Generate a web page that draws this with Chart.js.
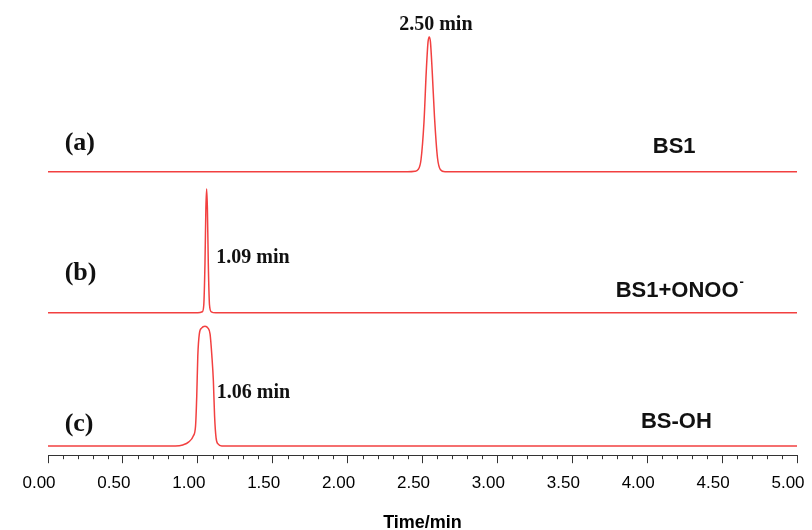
<!DOCTYPE html>
<html>
<head>
<meta charset="utf-8">
<script src="https://cdn.jsdelivr.net/npm/chart.js@4/dist/chart.umd.min.js"></script>
<style>
  html, body { margin: 0; padding: 0; background: #fff; }
  #wrap { width: 812px; height: 530px; }
</style>
</head>
<body>
<div id="wrap"><canvas id="chrom"></canvas></div>
<script>
// retention time (min) / detector signal
const timeA = [0, 2.40, 2.45, 2.47, 2.49, 2.51, 2.525, 2.537, 2.545, 2.553, 2.565, 2.58, 2.60, 2.62, 2.65, 5];
const signalA = [0, 0, 0.5, 2, 12, 50, 100, 130, 135, 130, 100, 55, 14, 2, 0, 0];

const timeB = [0, 1.00, 1.030, 1.040, 1.048, 1.054, 1.059, 1.064, 1.070, 1.078, 1.090, 1.12, 5];
const signalB = [0, 0, 1, 8, 50, 105, 124, 105, 50, 8, 1, 0, 0];

const timeC = [0, 0.85, 0.90, 0.94, 0.97, 0.985, 0.993, 1.000, 1.010, 1.025, 1.048, 1.068, 1.082, 1.094, 1.104, 1.112, 1.122, 1.135, 1.16, 5];
const signalC = [0, 0, 1, 4, 10, 20, 50, 90, 112, 118, 120, 118, 112, 90, 65, 30, 8, 2, 0, 0];

// vertical stacking of the runs
const offsetA = 284;
const offsetB = 142.7;
const offsetC = 9.3;

const xMin = 0;
const xMax = 5;
const xStep = 0.1;

const notes = [
  { text: '2.50 min', x: 2.589, y: 431, font: 'bold 20px "Liberation Serif"', align: 'center' },
  { text: '1.09 min', x: 1.123, y: 198, font: 'bold 20px "Liberation Serif"', align: 'left' },
  { text: '1.06 min', x: 1.127, y: 62.7, font: 'bold 20px "Liberation Serif"', align: 'left' },
  { text: '(a)', x: 0.111, y: 312, font: 'bold 26px "Liberation Serif"', align: 'left' },
  { text: '(b)', x: 0.111, y: 182, font: 'bold 26px "Liberation Serif"', align: 'left' },
  { text: '(c)', x: 0.111, y: 31, font: 'bold 26px "Liberation Serif"', align: 'left' },
  { text: 'BS1', x: 4.18, y: 309.3, font: 'bold 22px "Liberation Sans"', align: 'center' },
  { text: 'BS1+ONOO', sup: '-', x: 4.20, y: 164.3, font: 'bold 22px "Liberation Sans"', align: 'center' },
  { text: 'BS-OH', x: 4.195, y: 33, font: 'bold 22px "Liberation Sans"', align: 'center' }
];

const toPoints = (t, s, off) => t.map((v, i) => ({ x: v, y: s[i] + off }));
const isMajor = v => Math.abs(v * 2 - Math.round(v * 2)) < 1e-6;

const run = (label, t, s, off) => ({
  label: label,
  data: toPoints(t, s, off),
  borderColor: '#f24040',
  borderWidth: 1.5,
  pointRadius: 0,
  fill: false,
  cubicInterpolationMode: 'monotone'
});

const minorTicks = {
  id: 'minorTicks',
  afterDraw(chart) {
    const sx = chart.scales.x;
    const ctx = chart.ctx;
    ctx.save();
    ctx.strokeStyle = '#333';
    ctx.lineWidth = 1;
    sx.ticks.forEach((t, i) => {
      if (isMajor(t.value)) return;
      const px = Math.round(sx.getPixelForTick(i)) + 0.5;
      ctx.beginPath();
      ctx.moveTo(px, sx.top);
      ctx.lineTo(px, sx.top + 4);
      ctx.stroke();
    });
    ctx.restore();
  }
};

const textNotes = {
  id: 'textNotes',
  afterDatasetsDraw(chart) {
    const ctx = chart.ctx;
    const sx = chart.scales.x, sy = chart.scales.y;
    ctx.save();
    ctx.fillStyle = '#111';
    ctx.textBaseline = 'middle';
    notes.forEach(n => {
      ctx.font = n.font;
      let px = sx.getPixelForValue(n.x);
      const py = sy.getPixelForValue(n.y);
      const w = ctx.measureText(n.text).width;
      if (n.align === 'center') px -= w / 2;
      ctx.textAlign = 'left';
      ctx.fillText(n.text, px, py);
      if (n.sup) {
        ctx.font = 'bold 13px "Liberation Sans"';
        ctx.fillText(n.sup, px + w + 1, py - 9);
      }
    });
    ctx.restore();
  }
};

new Chart(document.getElementById('chrom'), {
  type: 'line',
  data: {
    datasets: [
      run('BS1', timeA, signalA, offsetA),
      run('BS1+ONOO-', timeB, signalB, offsetB),
      run('BS-OH', timeC, signalC, offsetC)
    ]
  },
  options: {
    responsive: true,
    maintainAspectRatio: false,
    animation: false,
    layout: { padding: { left: 48, right: 15, top: 0, bottom: 0 } },
    plugins: { legend: { display: false }, tooltip: { enabled: false } },
    scales: {
      x: {
        type: 'linear',
        min: xMin,
        max: xMax,
        afterFit(scale) { scale.paddingLeft = 0; scale.paddingRight = 0; },
        border: { display: true, color: '#333', width: 1 },
        grid: {
          drawOnChartArea: false,
          tickLength: 8,
          tickColor: c => (c.tick && isMajor(c.tick.value)) ? '#333' : 'rgba(0,0,0,0)'
        },
        ticks: {
          stepSize: xStep,
          autoSkip: false,
          maxRotation: 0,
          padding: 9.5,
          labelOffset: -9,
          color: '#000',
          font: { family: '"Liberation Sans"', size: 17 },
          callback: v => isMajor(v) ? v.toFixed(2) : ''
        },
        title: {
          display: true,
          text: 'Time/min',
          color: '#000',
          font: { family: '"Liberation Sans"', size: 18, weight: 'bold', lineHeight: 0.8 },
          padding: { top: 13, bottom: 0 }
        }
      },
      y: {
        display: false,
        min: 0,
        max: 456
      }
    }
  },
  plugins: [minorTicks, textNotes]
});
</script>
</body>
</html>
